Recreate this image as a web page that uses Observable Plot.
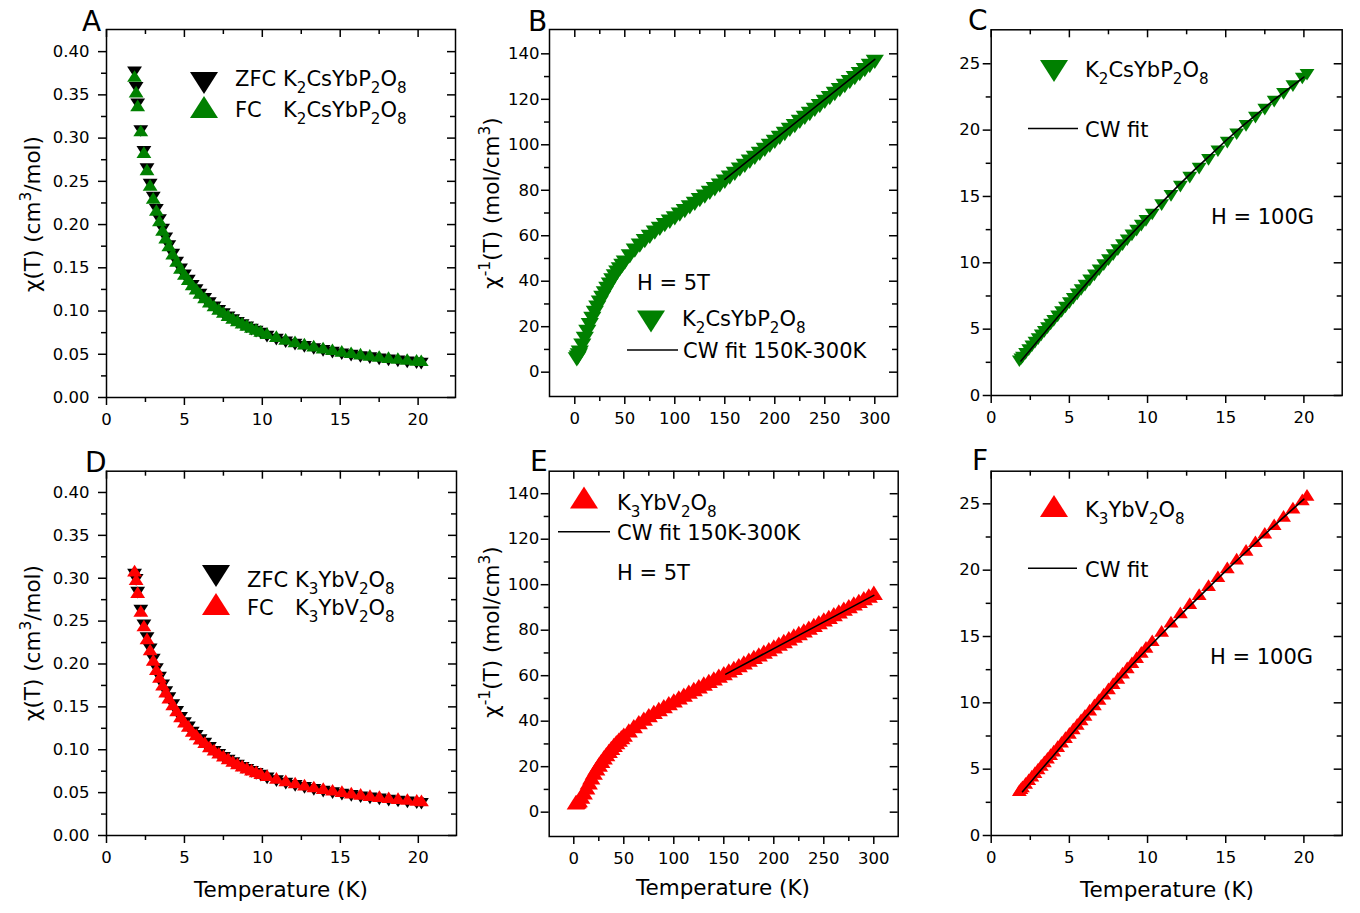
<!DOCTYPE html>
<html><head><meta charset="utf-8">
<script src="https://cdn.jsdelivr.net/npm/d3@7"></script>
<script src="https://cdn.jsdelivr.net/npm/@observablehq/plot@0.6"></script>
<style>
body{margin:0;background:#fff;}
#root{position:relative;width:1360px;height:913px;overflow:hidden;background:#fff;}
#overlay{position:absolute;left:0;top:0;pointer-events:none;}
</style></head><body><div id="root"></div>
<script>
// ---------------- DATA ----------------
// Low-temperature sweep (K) shared by panels A, C, D, F
const tempLow = [1.8,1.9,2.0,2.2,2.4,2.6,2.8,3.0,3.2,3.4,3.6,3.8,4.0,4.25,4.5,4.75,5.0,5.25,5.5,5.75,6.0,6.3,6.6,6.9,7.2,7.5,7.8,8.1,8.4,8.7,9.0,9.3,9.6,9.9,10.3,10.9,11.5,12.1,12.7,13.3,13.9,14.5,15.1,15.7,16.3,16.9,17.5,18.1,18.7,19.3,19.9,20.2];
// Panel A: chi(T), K2CsYbP2O8
const chiZfcCs = [0.378,0.360,0.341,0.310,0.286,0.266,0.248,0.233,0.219,0.207,0.196,0.186,0.177,0.167,0.158,0.150,0.143,0.137,0.131,0.126,0.121,0.116,0.111,0.1062,0.1020,0.0982,0.0946,0.0913,0.0883,0.0855,0.0829,0.0804,0.0781,0.0759,0.0722,0.0688,0.0657,0.0629,0.0603,0.0579,0.0557,0.0538,0.0519,0.0503,0.0487,0.0473,0.0460,0.0447,0.0436,0.0425,0.0415,0.0410];
const chiFcCs = [0.370,0.352,0.336,0.307,0.282,0.262,0.244,0.229,0.215,0.203,0.192,0.183,0.174,0.1645,0.156,0.148,0.141,0.135,0.129,0.124,0.119,0.114,0.109,0.1046,0.1006,0.0970,0.0935,0.0903,0.0874,0.0846,0.0821,0.0797,0.0774,0.0753,0.0727,0.0691,0.0659,0.0631,0.0605,0.0581,0.0559,0.0540,0.0521,0.0505,0.0489,0.0475,0.0462,0.0449,0.0438,0.0427,0.0417,0.0412];
// Panel C: 1/chi, K2CsYbP2O8, H = 100G
const invChiCs = [2.70,2.84,2.98,3.26,3.54,3.82,4.10,4.37,4.65,4.92,5.20,5.47,5.74,6.08,6.41,6.75,7.08,7.41,7.74,8.07,8.40,8.79,9.17,9.56,9.94,10.32,10.70,11.07,11.45,11.82,12.19,12.55,12.92,13.28,13.76,14.47,15.17,15.86,16.54,17.22,17.88,18.53,19.18,19.81,20.44,21.06,21.67,22.27,22.85,23.43,24.01,24.29];
const cwFitCsT = [1.9,3,4,5,6,7,8,9,10,11,12,13,14,15,16,17,18,19,20];
const cwFitCsV = [2.6,4.15,5.55,6.95,8.3,9.65,10.95,12.2,13.45,14.65,15.85,17.0,18.1,19.2,20.25,21.2,22.2,23.1,24.0];
// Panel D: chi(T), K3YbV2O8
const chiZfcV = [0.306,0.300,0.285,0.264,0.247,0.232,0.219,0.207,0.196,0.186,0.177,0.169,0.162,0.154,0.146,0.139,0.133,0.128,0.122,0.118,0.113,0.109,0.104,0.0995,0.0960,0.0925,0.0893,0.0862,0.0834,0.0808,0.0783,0.0760,0.0738,0.0717,0.0685,0.0652,0.0623,0.0597,0.0573,0.0551,0.0531,0.0513,0.0496,0.0480,0.0465,0.0451,0.0439,0.0426,0.0415,0.0405,0.0395,0.0389];
const chiFcV = [0.307,0.297,0.282,0.260,0.243,0.228,0.215,0.203,0.192,0.183,0.174,0.166,0.159,0.151,0.144,0.137,0.131,0.126,0.120,0.116,0.111,0.107,0.102,0.0983,0.0946,0.0912,0.0880,0.0850,0.0822,0.0797,0.0773,0.0750,0.0729,0.0709,0.0685,0.0654,0.0625,0.0599,0.0575,0.0553,0.0533,0.0515,0.0498,0.0482,0.0467,0.0453,0.0441,0.0428,0.0417,0.0407,0.0397,0.0391];
// Panel F: 1/chi, K3YbV2O8, H = 100G
const invChiV = [3.30,3.44,3.58,3.85,4.12,4.39,4.66,4.93,5.20,5.47,5.74,6.01,6.28,6.62,6.95,7.29,7.62,7.96,8.30,8.63,8.97,9.37,9.77,10.17,10.57,10.97,11.37,11.76,12.16,12.55,12.94,13.33,13.72,14.10,14.60,15.30,16.00,16.70,17.39,18.07,18.75,19.42,20.09,20.75,21.41,22.06,22.70,23.34,23.97,24.60,25.22,25.55];
const cwFitVT = [2,3,4,5,6,7,8,9,10,11,12,13,14,15,16,17,18,19,20];
const cwFitVV = [3.3,4.7,6.05,7.45,8.85,10.2,11.55,12.85,14.1,15.3,16.5,17.65,18.8,19.95,21.05,22.15,23.25,24.3,25.35];
// High-temperature sweep (K), panels B and E (H = 5T)
const tempHigh = [2,3,4,5,7.5,10,12.5,15,17.5,20,22.5,25,27.5,30,32.5,35,37.5,40,42.5,45,47.5,50,55,60,65,70,75,80,85,90,95,100,105,110,115,120,125,130,135,140,145,150,155,160,165,170,175,180,185,190,195,200,205,210,215,220,225,230,235,240,245,250,255,260,265,270,275,280,285,290,295,300];
const invChiCs5T = [6.5,7.2,8.2,9.4,12.5,15.5,18.6,21.5,24.3,26.9,29.2,31.4,33.5,35.5,37.5,39.4,41.2,43.0,44.6,46.1,47.6,49.0,51.8,54.3,56.5,58.5,60.4,62.2,63.9,65.5,67.0,68.5,70.1,71.7,73.3,74.9,76.5,78.1,79.7,81.3,82.9,84.6,86.4,88.1,89.9,91.6,93.4,95.1,96.9,98.6,100.4,102.1,103.9,105.6,107.4,109.1,110.9,112.7,114.4,116.2,117.9,119.7,121.4,123.2,124.9,126.7,128.4,130.2,131.9,133.7,135.5,137.3];
const invChiV5T = [3.5,3.7,4.0,4.5,6.0,7.8,10.0,12.2,14.5,16.5,18.4,20.1,21.7,23.2,24.7,26.1,27.4,28.7,29.9,31.0,32.1,33.2,35.1,37.0,38.7,40.3,41.8,43.2,44.5,45.8,47.1,48.3,49.6,50.8,52.1,53.3,54.5,55.7,56.9,58.0,59.2,60.3,61.5,62.6,63.8,65.0,66.2,67.4,68.5,69.7,70.8,72.0,73.2,74.4,75.6,76.8,77.9,79.1,80.3,81.5,82.7,83.9,85.0,86.2,87.4,88.6,89.7,90.9,92.0,93.2,94.4,95.6];
const cwHighCsT = [150,300], cwHighCsV = [84.8,137.6];
const cwHighVT = [152,300], cwHighVV = [60.7,95.3];
// Tick values
const xTicksLowT = [0,5,10,15,20], xMinorLowT = [2.5,7.5,12.5,17.5];
const xTicksHighT = [0,50,100,150,200,250,300], xMinorHighT = [-25,25,75,125,175,225,275];
const yTicksChi = [0,0.05,0.10,0.15,0.20,0.25,0.30,0.35,0.40], yMinorChi = [0.025,0.075,0.125,0.175,0.225,0.275,0.325,0.375];
const yTicksInv5T = [0,20,40,60,80,100,120,140], yMinorInv5T = [-10,10,30,50,70,90,110,130,150];
const yTicksInvLow = [0,5,10,15,20,25], yMinorInvLow = [2.5,7.5,12.5,17.5,22.5,27.5];

// ---------------- DRAWING ----------------
const GREEN = "#008000", RED = "#ff0000", FONT = '"DejaVu Sans", sans-serif';
const zip = (xs, ys) => xs.map((x, i) => ({x, y: ys[i]}));
const triSym = (down) => ({draw(ctx, size) {
  const r = Math.sqrt(size / Math.PI);
  if (down) { ctx.moveTo(-1.4*r, -0.8*r); ctx.lineTo(1.4*r, -0.8*r); ctx.lineTo(0, 1.4*r); }
  else { ctx.moveTo(-1.4*r, 0.8*r); ctx.lineTo(1.4*r, 0.8*r); ctx.lineTo(0, -1.4*r); }
  ctx.closePath();
}});
const TRI_DOWN = triSym(true), TRI_UP = triSym(false);
const dots = (xs, ys, down, fill, r = 5) => Plot.dot(zip(xs, ys), {x: "x", y: "y", symbol: down ? TRI_DOWN : TRI_UP, r, fill});
const fit = (xs, ys) => Plot.line(zip(xs, ys), {x: "x", y: "y", stroke: "black", strokeWidth: 1.6});

const root = document.getElementById("root");
function panel(c) {
  const fw = c.width - c.mL - c.mR, fh = c.height - c.mT - c.mB;
  const inside = (arr, d) => { const e = 0.01 * (d[1] - d[0]); return arr.filter(v => v > d[0] + e && v < d[1] - e); };
  const xMin = inside(c.xMin, c.xDomain), yMin = inside(c.yMin, c.yDomain);
  const ts = {stroke: "black", strokeWidth: 1.5};
  const svg = Plot.plot({
    width: c.width, height: c.height,
    marginLeft: c.mL, marginRight: c.mR, marginTop: c.mT, marginBottom: c.mB,
    style: {fontFamily: FONT, fontSize: "16.5px", color: "black", background: "transparent", overflow: "visible"},
    x: {domain: c.xDomain}, y: {domain: c.yDomain},
    marks: [
      ...c.marks,
      Plot.frame({stroke: "black", strokeWidth: 1.5}),
      Plot.axisX({ticks: c.xMaj, tickSize: 8, tickPadding: 8, tickFormat: d => String(d), label: null, strokeWidth: 1.5}),
      Plot.axisY({ticks: c.yMaj, tickSize: 8, tickPadding: c.yPad, tickFormat: c.yFmt, label: null, strokeWidth: 1.5}),
      Plot.tickX(xMin, {x: d => d, insetTop: fh, insetBottom: -5, ...ts}),
      Plot.tickX(c.xMaj, {x: d => d, insetBottom: fh - 8, ...ts}),
      Plot.tickX(xMin, {x: d => d, insetBottom: fh - 5, ...ts}),
      Plot.tickY(yMin, {y: d => d, insetRight: fw, insetLeft: -5, ...ts}),
      Plot.tickY(c.yMaj, {y: d => d, insetLeft: fw - 8, ...ts}),
      Plot.tickY(yMin, {y: d => d, insetLeft: fw - 5, ...ts})
    ]
  });
  svg.style.position = "absolute";
  svg.style.left = c.left + "px";
  svg.style.top = c.top + "px";
  root.appendChild(svg);
}
const f2 = d3.format(".2f");
const lowX = {xDomain: [0, 22.4], xMaj: xTicksLowT, xMin: xMinorLowT};
const highX = {xMaj: xTicksHighT, xMin: xMinorHighT};

panel({left: 0, top: 0, width: 460, height: 440, mL: 106, mR: 5, mT: 29, mB: 43, ...lowX,
  yDomain: [0, 0.4256], yMaj: yTicksChi, yMin: yMinorChi, yFmt: f2, yPad: 9,
  marks: [dots(tempLow, chiZfcCs, true, "black", 5.3), dots(tempLow, chiFcCs, false, GREEN, 5.3)]});
panel({left: 460, top: 0, width: 445, height: 440, mL: 89, mR: 8, mT: 29, mB: 44, ...highX, xDomain: [-25.3, 322.7],
  yDomain: [-10.7, 150.7], yMaj: yTicksInv5T, yMin: yMinorInv5T, yFmt: d => String(d), yPad: 2,
  marks: [dots(tempHigh, invChiCs5T, true, GREEN, 6.5), fit(cwHighCsT, cwHighCsV)]});
panel({left: 905, top: 0, width: 455, height: 440, mL: 85.7, mR: 18.3, mT: 29.3, mB: 45, ...lowX, xDomain: [0, 22.45],
  yDomain: [0, 27.56], yMaj: yTicksInvLow, yMin: yMinorInvLow, yFmt: d => String(d), yPad: 3,
  marks: [dots(tempLow, invChiCs, true, GREEN, 5.3), fit(cwFitCsT, cwFitCsV)]});
panel({left: 0, top: 440, width: 460, height: 473, mL: 106, mR: 4, mT: 30.7, mB: 78, ...lowX, xDomain: [0, 22.45],
  yDomain: [0, 0.4248], yMaj: yTicksChi, yMin: yMinorChi, yFmt: f2, yPad: 9,
  marks: [dots(tempLow, chiZfcV, true, "black", 5.3), dots(tempLow, chiFcV, false, RED, 5.3)]});
panel({left: 460, top: 440, width: 445, height: 473, mL: 88.7, mR: 7.3, mT: 30.7, mB: 77, ...highX, xDomain: [-24.6, 324.4],
  yDomain: [-10.7, 149.9], yMaj: yTicksInv5T, yMin: yMinorInv5T, yFmt: d => String(d), yPad: 2,
  marks: [dots(tempHigh, invChiV5T, false, RED, 6.5), fit(cwHighVT, cwHighVV)]});
panel({left: 905, top: 440, width: 455, height: 473, mL: 85.7, mR: 18.3, mT: 30.7, mB: 78, ...lowX, xDomain: [0, 22.45],
  yDomain: [0, 27.46], yMaj: yTicksInvLow, yMin: yMinorInvLow, yFmt: d => String(d), yPad: 3,
  marks: [dots(tempLow, invChiV, false, RED, 5.3), fit(cwFitVT, cwFitVV)]});

// ---------------- OVERLAY: labels, legends, annotations ----------------
const ov = d3.select(root).append("svg").attr("id", "overlay").attr("width", 1360).attr("height", 913)
  .style("font-family", FONT);
function tri(cx, cy, r, down, fill) {
  const p = down
    ? `M${cx-1.4*r},${cy-0.8*r}L${cx+1.4*r},${cy-0.8*r}L${cx},${cy+1.4*r}Z`
    : `M${cx-1.4*r},${cy+0.8*r}L${cx+1.4*r},${cy+0.8*r}L${cx},${cy-1.4*r}Z`;
  ov.append("path").attr("d", p).attr("fill", fill);
}
function txt(x, y, parts, fs, opt = {}) {
  const t = ov.append("text").attr("x", x).attr("y", y).attr("font-size", fs).attr("fill", "black");
  if (opt.anchor) t.attr("text-anchor", opt.anchor);
  if (opt.transform) t.attr("transform", opt.transform);
  let shift = 0;
  for (const part of (Array.isArray(parts) ? parts : [parts])) {
    const [s, kind] = Array.isArray(part) ? part : [part];
    const target = kind === "sub" ? 0.33 * fs : kind === "sup" ? -0.42 * fs : 0;
    const span = t.append("tspan").text(s);
    if (target !== shift) span.attr("dy", target - shift);
    if (kind) span.attr("font-size", 0.72 * fs);
    shift = target;
  }
}
function hline(x1, x2, y) {
  ov.append("line").attr("x1", x1).attr("x2", x2).attr("y1", y).attr("y2", y).attr("stroke", "black").attr("stroke-width", 1.6);
}
const fCs = ["K", ["2", "sub"], "CsYbP", ["2", "sub"], "O", ["8", "sub"]];
const fV = ["K", ["3", "sub"], "YbV", ["2", "sub"], "O", ["8", "sub"]];
const yLabChi = ["χ(T) (cm", ["3", "sup"], "/mol)"];
const yLabInv = ["χ", ["-1", "sup"], "(T) (mol/cm", ["3", "sup"], ")"];
const LF = 21, AF = 21.5;

// panel letters
[["A", 82, 31], ["B", 528, 31], ["C", 968, 30], ["D", 85, 472], ["E", 530, 471], ["F", 972, 470]]
  .forEach(([s, x, y]) => txt(x, y, s, 28));

// axis titles
const ylab = (cx, cy, parts) => txt(0, 0.36 * AF, parts, AF, {anchor: "middle", transform: `translate(${cx},${cy}) rotate(-90)`});
ylab(32, 214, yLabChi); ylab(491, 203, yLabInv);
ylab(32, 643, yLabChi); ylab(491, 632, yLabInv);
txt(281, 897, "Temperature (K)", AF, {anchor: "middle"});
txt(723, 895, "Temperature (K)", AF, {anchor: "middle"});
txt(1167, 897, "Temperature (K)", AF, {anchor: "middle"});

// A legend
tri(204, 80, 10, true, "black"); tri(204, 110, 10, false, GREEN);
txt(235, 86, "ZFC", LF); txt(283, 86, fCs, LF);
txt(235, 117, "FC", LF); txt(283, 117, fCs, LF);
// B
txt(637, 290, "H = 5T", LF);
tri(651, 318.5, 10, true, GREEN); txt(682, 326, fCs, LF);
hline(627, 678, 350); txt(683, 358, "CW fit 150K-300K", LF);
// C
tri(1054, 68, 10, true, GREEN); txt(1085, 77, fCs, LF);
hline(1028, 1078, 128.5); txt(1085, 137, "CW fit", LF);
txt(1211, 224, "H = 100G", LF);
// D
tri(216, 573, 10, true, "black"); tri(216, 607, 10, false, RED);
txt(247, 587, "ZFC", LF); txt(295, 587, fV, LF);
txt(247, 615, "FC", LF); txt(295, 615, fV, LF);
// E
tri(584, 500.5, 10, false, RED); txt(617, 510, fV, LF);
hline(558, 610, 531.7); txt(617, 540, "CW fit 150K-300K", LF);
txt(617, 580, "H = 5T", LF);
// F
tri(1054, 509, 10, false, RED); txt(1085, 517, fV, LF);
hline(1028, 1077, 568.3); txt(1085, 577, "CW fit", LF);
txt(1210, 664, "H = 100G", LF);
</script></body></html>
